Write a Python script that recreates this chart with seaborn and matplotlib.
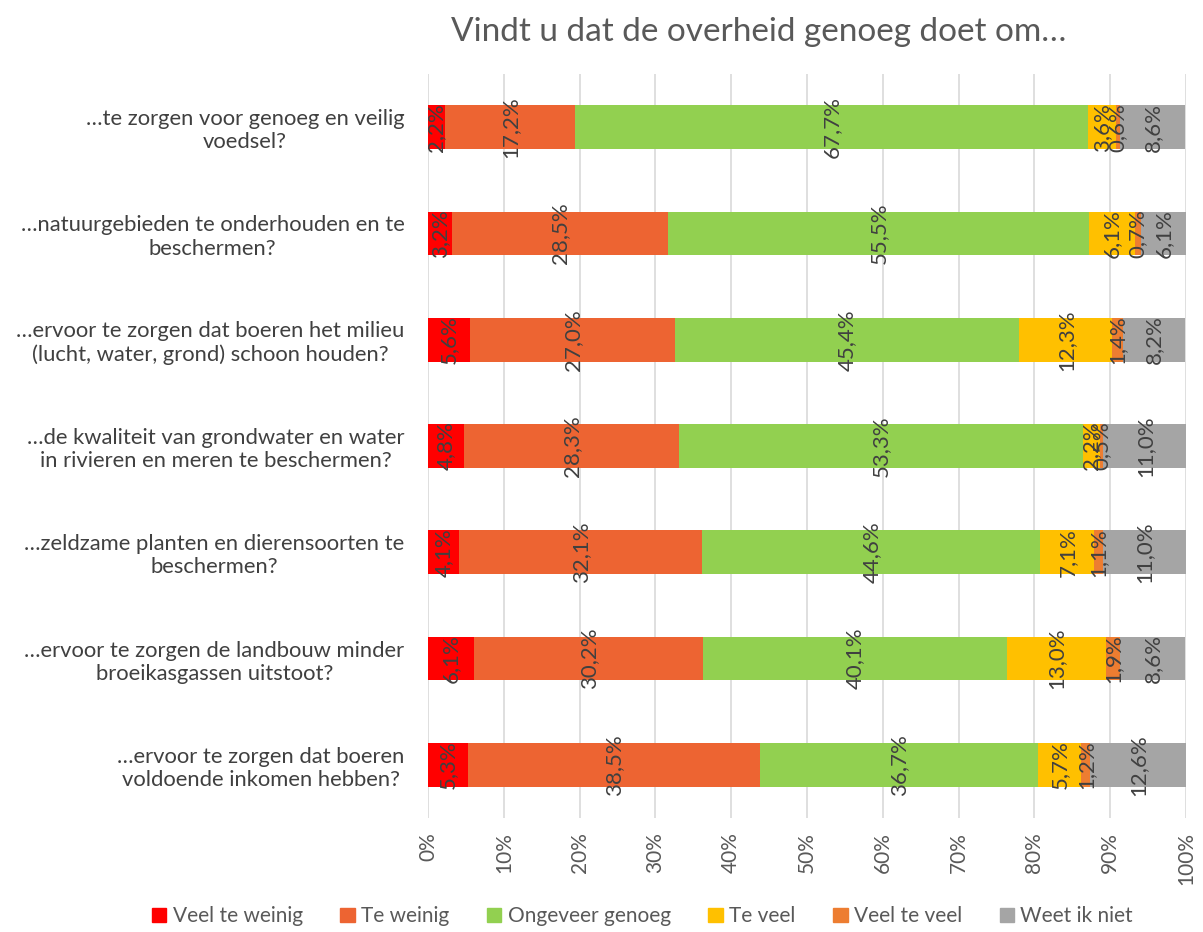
import numpy as np
import pandas as pd
import matplotlib
matplotlib.use("Agg")
import matplotlib.pyplot as plt
import seaborn as sns

# vragen (y-as)
vragen = [
    "…te zorgen voor genoeg en veilig\nvoedsel?",
    "…natuurgebieden te onderhouden en te\nbeschermen?",
    "…ervoor te zorgen dat boeren het milieu\n(lucht, water, grond) schoon houden?",
    "…de kwaliteit van grondwater en water\nin rivieren en meren te beschermen?",
    "…zeldzame planten en dierensoorten te\nbeschermen?",
    "…ervoor te zorgen de landbouw minder\nbroeikasgassen uitstoot?",
    "…ervoor te zorgen dat boeren\nvoldoende inkomen hebben?",
]

antwoorden = ["Veel te weinig", "Te weinig", "Ongeveer genoeg", "Te veel", "Veel te veel", "Weet ik niet"]

veel_te_weinig = [2.2, 3.2, 5.6, 4.8, 4.1, 6.1, 5.3]
te_weinig = [17.2, 28.5, 27.0, 28.3, 32.1, 30.2, 38.5]
ongeveer_genoeg = [67.7, 55.5, 45.4, 53.3, 44.6, 40.1, 36.7]
te_veel = [3.6, 6.1, 12.3, 2.2, 7.1, 13.0, 5.7]
veel_te_veel = [0.6, 0.7, 1.4, 0.5, 1.1, 1.9, 1.2]
weet_niet = [8.6, 6.1, 8.2, 11.0, 11.0, 8.6, 12.6]

kleuren = ["#FF0000", "#ED6432", "#92D050", "#FFC000", "#ED7D31", "#A5A5A5"]

df = pd.DataFrame({
    "vraag": vragen,
    antwoorden[0]: veel_te_weinig,
    antwoorden[1]: te_weinig,
    antwoorden[2]: ongeveer_genoeg,
    antwoorden[3]: te_veel,
    antwoorden[4]: veel_te_veel,
    antwoorden[5]: weet_niet,
})

cum = df[antwoorden].cumsum(axis=1)

sns.set_style("white")
plt.rcParams["font.family"] = ["Lato", "DejaVu Sans"]

fig = plt.figure(figsize=(12.03, 9.32), dpi=100)
ax = fig.add_axes([428 / 1203, 1 - 818 / 932, (1186 - 428) / 1203, (818 - 74) / 932])

# gestapeld: van achter naar voor tekenen
for i in range(len(antwoorden) - 1, -1, -1):
    sns.barplot(x=cum[antwoorden[i]], y=df["vraag"], orient="h", color=kleuren[i],
                width=0.41, linewidth=0, saturation=1, ax=ax, zorder=2)

# labels in de balken
for i, a in enumerate(antwoorden):
    for j in range(len(df)):
        v = df[a][j]
        mid = cum[a][j] - v / 2
        ax.text(mid, j, f"{v:.1f}%".replace(".", ","), rotation=90, ha="center", va="center",
                fontsize=16, color="#404040", zorder=3)

ax.set_xlim(0, 100)
ax.set_ylim(len(df) - 0.5, -0.5)
ax.set_xticks(np.arange(0, 101, 10))
ax.set_xticklabels([f"{t}%" for t in range(0, 101, 10)], rotation=90, fontsize=15, color="#595959")
ax.tick_params(axis="x", pad=10, length=0)
ax.tick_params(axis="y", length=0, pad=17)
ax.set_yticks(range(len(df)))
ax.set_yticklabels(vragen, fontsize=15.8, color="#404040", multialignment="center")
ax.set_xlabel("")
ax.set_ylabel("")
ax.grid(axis="x", color="#D9D9D9", linewidth=1.2, zorder=0)
ax.set_axisbelow(True)
for s in ax.spines.values():
    s.set_visible(False)

fig.text(0.631, 0.966, "Vindt u dat de overheid genoeg doet om…", ha="center", va="center",
         fontsize=24, color="#595959")

handles = [plt.Rectangle((0, 0), 1, 1, color=c) for c in kleuren]
fig.legend(handles, antwoorden, loc="center", bbox_to_anchor=(0.534, 0.017), ncol=6,
           frameon=False, fontsize=15, handlelength=0.7, handleheight=0.7,
           handletextpad=0.3, columnspacing=1.8, labelcolor="#595959")

fig.savefig("out.png", dpi=100)
